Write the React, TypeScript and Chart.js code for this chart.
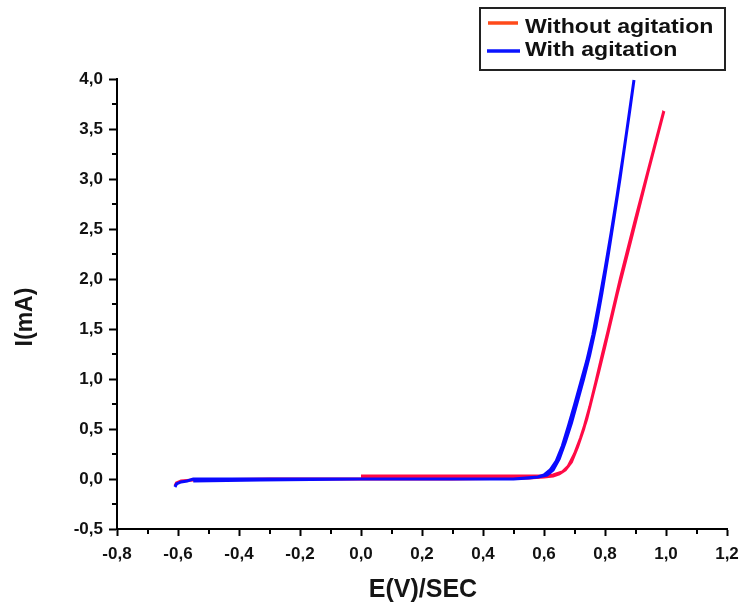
import React, { useEffect, useRef } from "react";
import { Chart, registerables } from "chart.js";

Chart.register(...registerables);

// Without agitation (forward scan then return scan)
const redE = [-0.61, -0.605, -0.59, -0.55, -0.3, 0.0, 0.3, 0.55, 0.6, 0.63, 0.65, 0.67, 0.69, 0.71, 0.73, 0.75, 0.77, 0.79, 0.81, 0.85, 0.9, 0.95, 0.993,
  0.94, 0.89, 0.84, 0.8, 0.78, 0.76, 0.74, 0.72, 0.7, 0.68, 0.66, 0.63, 0.6, 0.3, 0.0];
const redI = [-0.07, -0.04, -0.02, -0.01, 0.0, 0.0, 0.0, 0.01, 0.02, 0.03, 0.05, 0.09, 0.17, 0.32, 0.5, 0.72, 0.97, 1.23, 1.48, 2.0, 2.6, 3.18, 3.68,
  3.06, 2.45, 1.85, 1.33, 1.08, 0.84, 0.6, 0.41, 0.25, 0.13, 0.07, 0.04, 0.03, 0.03, 0.03];

// With agitation (forward scan then return scan)
const blueE = [-0.61, -0.605, -0.59, -0.57, -0.55, -0.3, 0.0, 0.3, 0.5, 0.55, 0.58, 0.6, 0.62, 0.64, 0.66, 0.68, 0.7, 0.72, 0.74, 0.76, 0.78, 0.8, 0.82, 0.84, 0.86, 0.88, 0.895,
  0.87, 0.85, 0.83, 0.81, 0.79, 0.77, 0.75, 0.73, 0.71, 0.69, 0.67, 0.65, 0.63, 0.61, 0.58, 0.5, 0.0, -0.33, -0.55];
const blueI = [-0.08, -0.05, -0.03, -0.02, 0.0, 0.0, 0.0, 0.0, 0.0, 0.01, 0.02, 0.04, 0.09, 0.18, 0.33, 0.53, 0.74, 0.96, 1.18, 1.44, 1.76, 2.1, 2.46, 2.84, 3.24, 3.66, 3.99,
  3.45, 3.02, 2.62, 2.23, 1.86, 1.52, 1.24, 1.0, 0.78, 0.56, 0.37, 0.2, 0.09, 0.04, 0.02, 0.0, 0.0, -0.01, -0.02];

const seriesNames = ["Without agitation", "With agitation"];
const xTitle = "E(V)/SEC";
const yTitle = "I(mA)";
const xMinorTicks = [-0.7, -0.5, -0.3, -0.1, 0.1, 0.3, 0.5, 0.7, 0.9, 1.1];
const yMinorTicks = [-0.25, 0.25, 0.75, 1.25, 1.75, 2.25, 2.75, 3.25, 3.75];

const FONT = "'Liberation Sans', Arial, sans-serif";

const fmt = (v: number) => {
  const n = Math.abs(v) < 1e-9 ? 0 : v;
  return n.toFixed(1).replace(".", ",");
};

const extrasPlugin = {
  id: "extras",
  afterDraw(chart: any) {
    const ctx = chart.ctx;
    const xs = chart.scales.x;
    const ys = chart.scales.y;
    const area = chart.chartArea;
    ctx.save();
    ctx.strokeStyle = "#000";
    ctx.lineWidth = 2;
    ctx.beginPath();
    xMinorTicks.forEach((v) => {
      const px = Math.round(xs.getPixelForValue(v));
      ctx.moveTo(px, area.bottom);
      ctx.lineTo(px, area.bottom + 5);
    });
    yMinorTicks.forEach((v) => {
      const py = Math.round(ys.getPixelForValue(v));
      ctx.moveTo(area.left, py);
      ctx.lineTo(area.left - 5, py);
    });
    ctx.stroke();

    // axis titles
    ctx.fillStyle = "#151515";
    ctx.textAlign = "center";
    ctx.textBaseline = "middle";
    ctx.font = `bold 25px ${FONT}`;
    ctx.fillText(xTitle, 423, 590);
    ctx.save();
    ctx.translate(26, 317);
    ctx.rotate(-Math.PI / 2);
    ctx.font = `bold 23px ${FONT}`;
    ctx.fillText(yTitle, 0, 0);
    ctx.restore();

    // legend box
    ctx.lineWidth = 2;
    ctx.strokeStyle = "#222";
    ctx.strokeRect(480, 8, 245, 62);
    ctx.lineWidth = 3.5;
    ctx.strokeStyle = "#ff4a1a";
    ctx.beginPath();
    ctx.moveTo(488, 23);
    ctx.lineTo(518, 23);
    ctx.stroke();
    ctx.strokeStyle = "#0a14ff";
    ctx.beginPath();
    ctx.moveTo(487, 51);
    ctx.lineTo(520, 51);
    ctx.stroke();
    ctx.fillStyle = "#111";
    ctx.font = `bold 21px ${FONT}`;
    ctx.textBaseline = "middle";
    ctx.textAlign = "left";
    ctx.save();
    ctx.translate(525, 0);
    ctx.scale(1.1, 1);
    ctx.fillText(seriesNames[0], 0, 27);
    ctx.fillText(seriesNames[1], 0, 50);
    ctx.restore();
    ctx.restore();
  },
};

export default function App() {
  const ref = useRef<HTMLCanvasElement>(null);
  useEffect(() => {
    if (!ref.current) return;
    const chart = new Chart(ref.current, {
      type: "scatter",
      data: {
        datasets: [
          {
            label: seriesNames[1],
            data: blueE.map((x, i) => ({ x, y: blueI[i] })),
            showLine: true,
            borderColor: "#0a0aff",
            borderWidth: 3,
            pointRadius: 0,
            order: 0,
          },
          {
            label: seriesNames[0],
            data: redE.map((x, i) => ({ x, y: redI[i] })),
            showLine: true,
            borderColor: "#ff0a46",
            borderWidth: 3,
            pointRadius: 0,
            order: 1,
          },
        ],
      },
      options: {
        animation: false,
        responsive: false,
        devicePixelRatio: 1,
        layout: { padding: { left: 0, top: 79, right: 12, bottom: 0 } },
        plugins: { legend: { display: false }, tooltip: { enabled: false } },
        scales: {
          x: {
            type: "linear",
            min: -0.8,
            max: 1.2,
            afterFit: (s: any) => {
              s.height = 76;
              s.paddingLeft = 0;
              s.paddingRight = 0;
            },
            ticks: {
              stepSize: 0.2,
              callback: (v: any) => fmt(Number(v)),
              color: "#111",
              font: { family: FONT, size: 17, weight: "bold" },
              padding: 8,
              maxRotation: 0,
              autoSkip: false,
            },
            grid: { drawOnChartArea: false, drawTicks: true, tickLength: 7, tickWidth: 2, tickColor: "#000" },
            border: { display: true, color: "#000", width: 2 },
          },
          y: {
            type: "linear",
            min: -0.5,
            max: 4.0,
            afterFit: (s: any) => {
              s.width = 117;
              s.paddingTop = 0;
              s.paddingBottom = 0;
            },
            ticks: {
              stepSize: 0.5,
              callback: (v: any) => fmt(Number(v)),
              color: "#111",
              font: { family: FONT, size: 17, weight: "bold" },
              padding: 6,
              autoSkip: false,
            },
            grid: { drawOnChartArea: false, drawTicks: true, tickLength: 8, tickWidth: 2, tickColor: "#000" },
            border: { display: true, color: "#000", width: 2 },
          },
        },
      },
      plugins: [extrasPlugin],
    });
    return () => chart.destroy();
  }, []);
  return (
    <div style={{ position: "fixed", left: 0, top: 0, width: 739, height: 605, background: "#fff" }}>
      <canvas ref={ref} width={739} height={605} />
    </div>
  );
}
